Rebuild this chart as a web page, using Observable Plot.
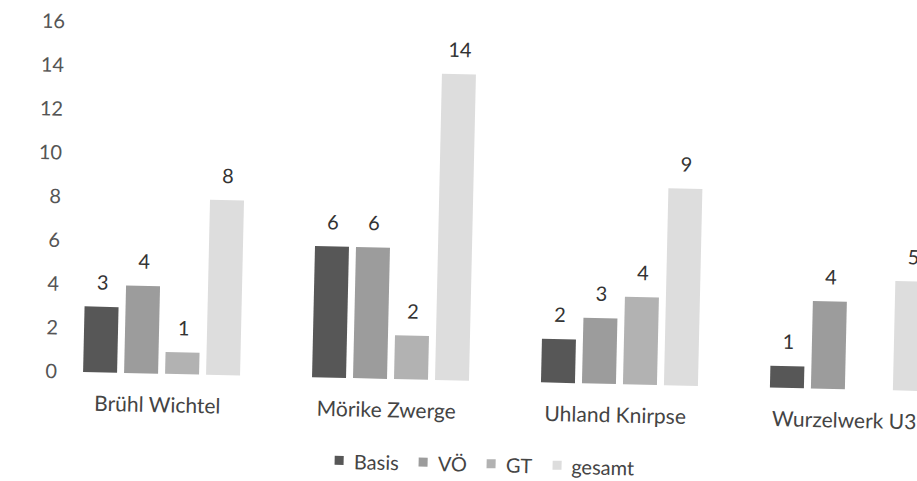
<!DOCTYPE html>
<html>
<head>
<meta charset="utf-8">
<script src="https://cdn.jsdelivr.net/npm/d3@7"></script>
<script src="https://cdn.jsdelivr.net/npm/@observablehq/plot@0.6"></script>
<style>
  html, body { margin: 0; padding: 0; background: #fff; overflow: hidden; width: 917px; height: 481px; }
  #chart { position: absolute; left: 0; top: 0; width: 1010px; transform-origin: 0 0; transform: rotate(1.3deg); font-family: Lato, sans-serif; }
  #legend { width: 1010px; display: flex; justify-content: center; margin-top: 16px; }
  #legend, #legend * { font-family: Lato, sans-serif !important; font-size: 20px !important; color: #444 !important; }
</style>
</head>
<body>
<div id="chart"></div>
<script>
const categories = ["Brühl Wichtel", "Mörike Zwerge", "Uhland Knirpse", "Wurzelwerk U3"];
const series = ["Basis", "VÖ", "GT", "gesamt"];
const basis = [3, 6, 2, 1];
const vo = [4, 6, 3, 4];
const gt = [1, 2, 4, null];
const gesamt = [8, 14, 9, 5];
const yTicks = [0, 2, 4, 6, 8, 10, 12, 14, 16];
const colors = ["#575757", "#9c9c9c", "#b2b2b2", "#dddddd"];

const seriesValues = [basis, vo, gt, gesamt];
const data = categories.flatMap((c, i) =>
  series.map((s, j) => ({category: c, series: s, value: seriesValues[j][i]}))
).filter(d => d.value != null);

const chart = Plot.plot({
  width: 972,
  height: 420,
  marginLeft: 55.5,
  marginRight: 0.5,
  marginTop: 20,
  marginBottom: 50,
  style: {fontFamily: "Lato, sans-serif", fontSize: "20px", background: "#fff", color: "#4a4a4a"},
  fx: {domain: categories, paddingInner: 0.239, paddingOuter: 0.1195, axis: null},
  x: {domain: series, padding: 0.18, axis: null},
  y: {domain: [0, 16], axis: null},
  color: {domain: series, range: colors},
  marks: [
    Plot.axisFx({anchor: "bottom", tickSize: 0, tickPadding: 23, dx: -4, fill: "#444", fontSize: 21, label: null}),
    Plot.axisY({ticks: yTicks, tickSize: 0, tickPadding: 18, fill: "#555", fontSize: 20, label: null}),
    Plot.barY(data, {fx: "category", x: "series", y: "value", fill: "series"}),
    Plot.text(data, {fx: "category", x: "series", y: "value", text: "value", dy: -24, fill: "#333", fontSize: 20})
  ]
});

const legend = Plot.legend({color: {domain: series, range: colors}, legend: "swatches", swatchSize: 9});
const legendWrap = document.createElement("div");
legendWrap.id = "legend";
legendWrap.appendChild(legend);

const container = document.getElementById("chart");
container.appendChild(chart);
container.appendChild(legendWrap);
</script>
</body>
</html>
